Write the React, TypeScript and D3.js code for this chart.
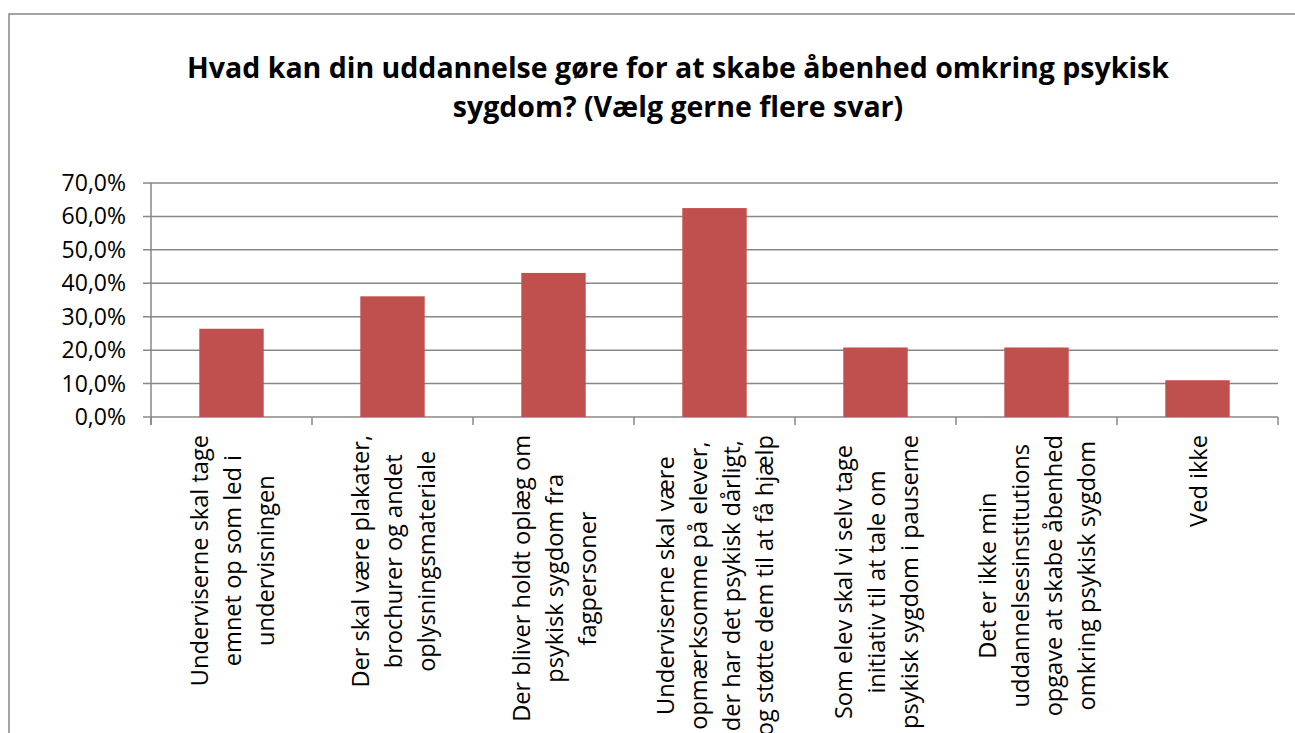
import React, { useRef, useEffect } from "react";
import * as d3 from "d3";

const titleLines = [
  "Hvad kan din uddannelse gøre for at skabe åbenhed omkring psykisk",
  "sygdom? (Vælg gerne flere svar)",
];

const categories = [
  ["Underviserne skal tage", "emnet op som led i", "undervisningen"],
  ["Der skal være plakater,", "brochurer og andet", "oplysningsmateriale"],
  ["Der bliver holdt oplæg om", "psykisk sygdom fra", "fagpersoner"],
  [
    "Underviserne skal være",
    "opmærksomme på elever,",
    "der har det psykisk dårligt,",
    "og støtte dem til at få hjælp",
  ],
  ["Som elev skal vi selv tage", "initiativ til at tale om", "psykisk sygdom i pauserne"],
  ["Det er ikke min", "uddannelsesinstitutions", "opgave at skabe åbenhed", "omkring psykisk sygdom"],
  ["Ved ikke"],
];

const values = [0.264, 0.361, 0.431, 0.625, 0.208, 0.208, 0.11];

const yTicks = [0, 0.1, 0.2, 0.3, 0.4, 0.5, 0.6, 0.7];

const W = 1295;
const H = 733;
const FONT = "'Open Sans', 'Liberation Sans', sans-serif";

const App = () => {
  const svgRef = useRef<SVGSVGElement>(null);

  useEffect(() => {
    const svg = d3.select(svgRef.current);
    svg.selectAll("*").remove();

    const plot = { left: 151, right: 1278, top: 183, bottom: 417 };
    const grey = "#878787";

    // chart border
    svg
      .append("rect")
      .attr("x", 9)
      .attr("y", 14)
      .attr("width", 1400)
      .attr("height", 900)
      .attr("fill", "white")
      .attr("stroke", grey)
      .attr("stroke-width", 1.5);

    // title
    const title = svg
      .append("text")
      .attr("text-anchor", "middle")
      .attr("font-family", FONT)
      .attr("font-weight", 700)
      .attr("font-size", 28.5)
      .attr("fill", "#000");
    titleLines.forEach((t, i) => {
      title
        .append("tspan")
        .attr("x", 678)
        .attr("y", 78 + i * 39)
        .text(t);
    });

    const x = d3
      .scaleBand<number>()
      .domain(d3.range(categories.length))
      .range([plot.left, plot.right])
      .paddingInner(0.6)
      .paddingOuter(0.3);

    const y = d3.scaleLinear().domain([0, 0.7]).range([plot.bottom, plot.top]);

    const fmt = (v: number) => d3.format(".1f")(v * 100).replace(".", ",") + "%";

    // gridlines
    svg
      .append("g")
      .selectAll("line")
      .data(yTicks)
      .enter()
      .append("line")
      .attr("x1", plot.left - 8)
      .attr("x2", plot.right)
      .attr("y1", (d) => y(d))
      .attr("y2", (d) => y(d))
      .attr("stroke", grey)
      .attr("stroke-width", 1.5);

    // y tick labels
    svg
      .append("g")
      .selectAll("text")
      .data(yTicks)
      .enter()
      .append("text")
      .attr("x", 126)
      .attr("y", (d) => y(d) + 8)
      .attr("text-anchor", "end")
      .attr("font-family", FONT)
      .attr("font-size", 23)
      .attr("fill", "#000")
      .text(fmt);

    // bars
    svg
      .append("g")
      .selectAll("rect")
      .data(values)
      .enter()
      .append("rect")
      .attr("x", (_, i) => x(i)!)
      .attr("width", x.bandwidth())
      .attr("y", (d) => y(d))
      .attr("height", (d) => y(0) - y(d))
      .attr("fill", "#C0504D");

    // axes
    svg
      .append("line")
      .attr("x1", plot.left)
      .attr("x2", plot.left)
      .attr("y1", plot.top)
      .attr("y2", plot.bottom + 8)
      .attr("stroke", grey)
      .attr("stroke-width", 1.5);

    const step = x.step();
    svg
      .append("g")
      .selectAll("line")
      .data(d3.range(categories.length + 1))
      .enter()
      .append("line")
      .attr("x1", (i) => plot.left + i * step)
      .attr("x2", (i) => plot.left + i * step)
      .attr("y1", plot.bottom)
      .attr("y2", plot.bottom + 8)
      .attr("stroke", grey)
      .attr("stroke-width", 1.5);

    // rotated category labels, lines centred on each other, top-anchored under the axis
    const lh = 33;
    categories.forEach((lines, i) => {
      const cx = x(i)! + x.bandwidth() / 2;
      const t = svg
        .append("text")
        .attr("transform", `translate(${cx},435) rotate(-90)`)
        .attr("text-anchor", "middle")
        .attr("font-family", FONT)
        .attr("font-size", 23.6)
        .attr("fill", "#000");
      const spans = lines.map((line, j) =>
        t
          .append("tspan")
          .attr("y", (j - (lines.length - 1) / 2) * lh + 9)
          .text(line)
      );
      const maxLen = d3.max(spans, (s) => (s.node() as SVGTSpanElement).getComputedTextLength()) || 0;
      spans.forEach((s) => s.attr("x", -maxLen / 2));
    });
  }, []);

  return (
    <svg
      ref={svgRef}
      width={W}
      height={H}
      style={{ position: "fixed", left: 0, top: 0, background: "white" }}
    ></svg>
  );
};

export default App;
